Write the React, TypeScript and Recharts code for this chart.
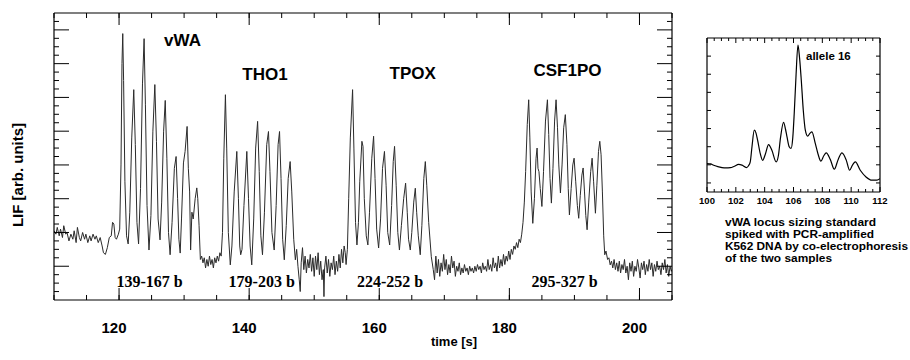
import React from 'react';
import { LineChart, Line, XAxis, YAxis } from 'recharts';

// ---------- main electropherogram: [time (s), LIF (arb. units)] ----------
const preVwa: [number, number][] = [
  [110.0, 2.05], [110.3, 1.95], [110.5, 2.15], [110.8, 1.9], [111.0, 2.1], [111.3, 1.85],
  [111.5, 2.2], [111.8, 1.95], [112.0, 2.0], [112.3, 1.75], [112.6, 1.95], [112.9, 1.8],
  [113.1, 2.05], [113.4, 1.7], [113.6, 2.15], [113.9, 1.85], [114.1, 1.75], [114.4, 2.0],
  [114.7, 1.8], [114.9, 1.95], [115.2, 1.7], [115.5, 1.9], [115.7, 1.75], [116.0, 1.95],
  [116.3, 1.8], [116.5, 1.9], [116.8, 1.7], [117.1, 1.85], [117.4, 1.6], [117.6, 1.4],
  [117.9, 1.35], [118.2, 1.55], [118.5, 1.85], [118.8, 1.9], [119.0, 2.3], [119.2, 2.25],
  [119.4, 1.85], [119.6, 1.8], [119.9, 1.95], [120.1, 2.1],
];
const vwaPeaks: [number, number][] = [
  [120.3, 4.0], [120.45, 7.0], [120.57, 7.89], [120.7, 6.5], [120.9, 3.5], [121.15, 1.9],
  [121.4, 1.66], [121.65, 2.6], [121.95, 4.8], [122.26, 6.23], [122.5, 4.6], [122.75, 2.3],
  [123.0, 1.66], [123.3, 3.3], [123.6, 6.4], [123.85, 7.74], [124.05, 5.8], [124.3, 2.8],
  [124.6, 1.48], [124.9, 2.5], [125.2, 5.0], [125.5, 6.38], [125.75, 4.7], [126.0, 2.4],
  [126.3, 1.78], [126.55, 2.9], [126.85, 5.0], [127.1, 5.91], [127.35, 4.2], [127.6, 2.0],
  [127.85, 1.34], [128.15, 2.3], [128.5, 3.9], [128.77, 4.25], [129.0, 3.0], [129.2, 1.8],
  [129.4, 1.39], [129.6, 2.4], [129.9, 4.06], [130.15, 4.4], [130.46, 5.14], [130.65, 3.9],
  [130.85, 3.2], [131.0, 1.48], [131.2, 2.6], [131.4, 2.4], [131.7, 3.0], [131.95, 3.32],
  [132.1, 3.0], [132.3, 2.2], [132.5, 1.2],
];
const gapOne: [number, number][] = [
  [132.7, 1.3], [132.9, 1.1], [133.1, 1.25], [133.3, 0.95], [133.5, 1.2], [133.7, 1.0],
  [133.9, 1.3], [134.1, 1.05], [134.3, 1.2], [134.5, 0.95], [134.7, 1.25], [134.9, 1.1],
  [135.1, 1.3], [135.3, 1.15], [135.5, 1.4], [135.7, 1.3],
];
const tho1Peaks: [number, number][] = [
  [135.9, 2.0], [136.1, 4.2], [136.35, 6.08], [136.55, 4.5], [136.8, 2.0], [137.1, 1.04],
  [137.35, 1.6], [137.7, 3.2], [138.1, 4.4], [138.35, 3.0], [138.55, 1.6], [138.7, 1.34],
  [138.9, 1.5], [139.2, 2.8], [139.64, 4.4], [139.9, 3.0], [140.15, 1.6], [140.4, 1.04],
  [140.7, 2.4], [141.0, 4.5], [141.3, 5.29], [141.55, 3.8], [141.8, 1.9], [142.05, 1.34],
  [142.35, 2.6], [142.7, 4.6], [142.97, 4.99], [143.2, 3.8], [143.5, 2.0], [143.85, 1.48],
  [144.15, 2.8], [144.45, 4.6], [144.67, 4.99], [144.9, 3.6], [145.15, 1.8], [145.4, 1.19],
  [145.7, 2.2], [146.0, 3.6], [146.3, 4.1], [146.55, 3.2], [146.85, 1.8], [147.1, 1.19],
];
const gapTwo: [number, number][] = [
  [147.3, 1.5], [147.5, 1.0], [147.7, 0.6], [147.85, 0.25], [148.0, 1.1], [148.2, 1.55],
  [148.4, 0.9], [148.6, 1.3], [148.8, 0.8], [149.0, 1.2], [149.2, 0.95], [149.4, 1.35],
  [149.6, 0.85], [149.8, 1.25], [150.0, 0.7], [150.2, 1.3], [150.4, 0.9], [150.6, 1.4],
  [150.8, 0.75], [151.0, 1.15], [151.2, 0.6], [151.4, 0.9], [151.5, 0.1], [151.6, 0.95],
  [151.8, 1.3], [152.0, 0.8], [152.2, 1.2], [152.4, 0.7], [152.6, 1.1], [152.8, 0.9],
  [153.0, 1.3], [153.2, 0.75], [153.4, 1.15], [153.6, 0.85], [153.8, 1.35], [154.0, 0.95],
  [154.2, 1.5], [154.4, 1.1], [154.6, 1.6], [154.77, 1.4], [154.9, 1.05],
];
const tpoxPeaks: [number, number][] = [
  [155.1, 1.5], [155.3, 3.0], [155.55, 4.8], [155.9, 6.23], [156.1, 4.5], [156.35, 2.3],
  [156.57, 1.63], [156.8, 2.3], [157.0, 3.5], [157.33, 4.7], [157.5, 4.55], [157.7, 3.0],
  [158.0, 1.9], [158.25, 1.63], [158.5, 2.6], [158.85, 4.2], [159.13, 4.85], [159.35, 3.6],
  [159.6, 2.1], [159.9, 1.54], [160.2, 2.4], [160.5, 3.9], [160.8, 4.4], [161.05, 3.4],
  [161.3, 2.0], [161.6, 1.63], [161.9, 2.8], [162.15, 4.1], [162.35, 4.55], [162.6, 3.4],
  [162.85, 2.0], [163.1, 1.48], [163.4, 2.2], [163.75, 3.0], [164.05, 3.46], [164.3, 2.6],
  [164.5, 1.8], [164.77, 1.48], [165.0, 2.0], [165.3, 2.9], [165.54, 3.31], [165.75, 2.6],
  [166.0, 1.9], [166.3, 1.34], [166.55, 2.2], [166.85, 3.6], [167.08, 4.1], [167.3, 3.4],
  [167.6, 2.3], [168.0, 1.28], [168.3, 0.9], [168.5, 0.6],
];
const gapThree: [number, number][] = [
  [168.7, 1.3], [168.9, 0.8], [169.1, 1.2], [169.3, 0.7], [169.5, 1.1], [169.7, 0.85],
  [169.9, 1.35], [170.1, 0.9], [170.3, 1.2], [170.5, 0.75], [170.7, 1.05], [170.9, 0.8],
  [171.1, 1.3], [171.3, 0.95], [171.5, 1.15], [171.7, 0.7], [171.9, 1.0], [172.1, 0.85],
  [172.3, 1.1], [172.5, 0.75], [172.7, 0.95], [172.9, 0.8], [173.1, 1.05], [173.3, 0.85],
  [173.5, 0.95], [173.7, 0.75], [173.9, 1.0], [174.1, 0.85], [174.3, 0.95], [174.5, 0.8],
  [174.7, 1.0], [174.9, 0.85], [175.1, 1.05], [175.3, 0.9], [175.5, 1.0], [175.7, 0.8],
  [175.9, 1.1], [176.1, 0.9], [176.3, 1.0], [176.5, 0.85], [176.7, 1.2], [176.9, 0.9],
  [177.1, 1.05], [177.3, 0.85], [177.5, 1.25], [177.7, 0.95], [177.9, 1.1], [178.1, 0.85],
  [178.3, 1.3], [178.5, 0.95], [178.7, 1.2], [178.9, 1.0], [179.1, 1.35], [179.3, 1.05],
  [179.5, 1.3], [179.7, 1.15], [179.9, 1.45], [180.1, 1.2], [180.3, 1.5], [180.5, 1.35],
  [180.7, 1.6], [180.9, 1.5], [181.1, 1.7],
];
const csf1poPeaks: [number, number][] = [
  [181.3, 1.55], [181.5, 1.8], [181.7, 1.7], [181.9, 1.95], [182.1, 2.3], [182.3, 2.9],
  [182.5, 3.8], [182.75, 5.2], [182.97, 5.93], [183.15, 4.8], [183.35, 3.2], [183.6, 2.27],
  [183.85, 3.0], [184.1, 4.2], [184.26, 4.5], [184.4, 3.9], [184.55, 3.8], [184.75, 3.3],
  [185.0, 2.77], [185.25, 3.8], [185.55, 5.3], [185.85, 5.93], [186.05, 4.9], [186.25, 3.6],
  [186.46, 2.87], [186.7, 3.9], [186.95, 5.3], [187.18, 5.93], [187.4, 5.1], [187.6, 4.0],
  [187.85, 3.17], [188.1, 4.0], [188.35, 5.1], [188.6, 5.49], [188.85, 4.6], [189.05, 3.3],
  [189.23, 2.52], [189.5, 3.3], [189.75, 4.0], [189.95, 4.2], [190.2, 3.5], [190.45, 2.8],
  [190.66, 2.42], [190.9, 3.1], [191.15, 3.7], [191.34, 3.91], [191.55, 3.2], [191.75, 2.5],
  [191.95, 2.08], [192.2, 2.9], [192.5, 3.8], [192.72, 4.2], [192.95, 3.5], [193.23, 2.57],
  [193.45, 3.4], [193.7, 4.4], [193.9, 4.7], [194.1, 4.3], [194.3, 3.2], [194.5, 1.9],
  [194.66, 1.34], [194.85, 1.45], [195.1, 1.2], [195.3, 1.25], [195.5, 1.04],
];
const tail: [number, number][] = [
  [195.7, 1.15], [195.9, 0.95], [196.1, 1.2], [196.3, 0.9], [196.5, 1.1], [196.7, 0.85],
  [196.9, 1.15], [197.1, 0.8], [197.3, 1.05], [197.5, 0.9], [197.7, 1.2], [197.9, 0.8],
  [198.1, 1.0], [198.3, 0.6], [198.5, 1.1], [198.7, 0.85], [198.9, 1.15], [199.1, 0.7],
  [199.3, 1.0], [199.5, 0.85], [199.7, 1.2], [199.9, 0.95], [200.1, 0.65], [200.3, 1.1],
  [200.5, 0.9], [200.7, 1.15], [200.9, 0.75], [201.1, 1.05], [201.3, 0.85], [201.5, 1.2],
  [201.7, 0.9], [201.9, 1.1], [202.1, 0.7], [202.3, 1.05], [202.5, 0.85], [202.7, 1.15],
  [202.9, 0.9], [203.1, 1.0], [203.3, 0.75], [203.5, 1.1], [203.7, 0.9], [203.9, 1.2],
  [204.1, 0.8], [204.3, 1.05], [204.5, 0.7], [204.7, 1.0], [204.9, 0.85], [205.0, 0.9],
];

// ---------- inset: vWA locus sizing standard ----------
const insetTrace: [number, number][] = [
  [100, 1.07], [100.25, 1.05], [100.46, 0.98], [100.75, 0.9], [101.04, 0.85], [101.3, 0.83],
  [101.62, 0.84], [101.9, 0.92], [102.19, 1.02], [102.43, 0.98], [102.73, 0.85], [102.88, 0.95],
  [103.0, 1.16], [103.12, 2.0], [103.28, 2.91], [103.4, 2.75], [103.51, 2.36], [103.7, 1.6],
  [103.86, 1.25], [104.05, 1.6], [104.27, 2.12], [104.5, 1.8], [104.8, 1.16], [104.95, 1.5],
  [105.1, 2.5], [105.31, 3.34], [105.45, 2.95], [105.55, 2.54], [105.7, 2.0], [105.83, 1.9],
  [105.95, 2.5], [106.05, 3.83], [106.18, 6.0], [106.31, 7.61], [106.42, 6.9], [106.54, 5.67],
  [106.68, 4.0], [106.82, 2.91], [106.98, 2.58], [107.15, 2.75], [107.28, 2.82], [107.51, 2.18],
  [107.7, 1.6], [107.9, 1.2], [108.1, 1.5], [108.27, 1.66], [108.55, 1.3], [108.83, 0.76],
  [109.1, 1.3], [109.36, 1.66], [109.66, 1.26], [109.89, 0.7], [110.1, 1.0], [110.29, 1.16],
  [110.63, 0.7], [111.03, 0.33], [111.44, 0.15], [111.79, 0.15], [112, 0.24],
];

// ---------- ticks & labels ----------
const mainMajorX = [120, 140, 160, 180, 200];
const mainMinorX = [110, 115, 120, 125, 130, 135, 140, 145, 150, 155, 160, 165, 170, 175, 180, 185, 190, 195, 200, 205];
const mainMajorY = [1, 2, 3, 4, 5, 6, 7, 8];
const mainMinorY = [0.25, 0.5, 0.75, 1.25, 1.5, 1.75, 2.25, 2.5, 2.75, 3.25, 3.5, 3.75, 4.25, 4.5, 4.75,
  5.25, 5.5, 5.75, 6.25, 6.5, 6.75, 7.25, 7.5, 7.75, 8.25];
const insetMajorX = [100, 102, 104, 106, 108, 110, 112];
const insetMinorX = [100.5, 101, 101.5, 102.5, 103, 103.5, 104.5, 105, 105.5, 106.5, 107, 107.5,
  108.5, 109, 109.5, 110.5, 111, 111.5];
const insetMajorY = [0, 1, 2, 3, 4, 5, 6, 7];

const locusNames = ['vWA', 'THO1', 'TPOX', 'CSF1PO'];
const sizeRanges = ['139-167 b', '179-203 b', '224-252 b', '295-327 b'];
const captionLines = ['vWA locus sizing standard', 'spiked with PCR-amplified', 'K562 DNA by co-electrophoresis', 'of the two samples'];

const mainData = [...preVwa, ...vwaPeaks, ...gapOne, ...tho1Peaks, ...gapTwo, ...tpoxPeaks, ...gapThree, ...csf1poPeaks, ...tail]
  .map(([t, v]) => ({ t, v }));
const insetData = insetTrace.map(([t, v]) => ({ t, v }));

const SANS = '"Liberation Sans", Arial, Helvetica, sans-serif';
const SERIF = '"Liberation Serif", "Times New Roman", serif';
const frame = { stroke: '#000', strokeWidth: 1.2 };
const tickLn = { stroke: '#000', strokeWidth: 1 };
const THIN = 0.01; // mirrored axes take (almost) no room
const noLabel = () => <g />;

const mainTick = (p: any) => (
  <text x={p.x - 5} y={p.y + 25} textAnchor="middle" fontFamily={SANS} fontWeight="bold" fontSize={15} fill="#000">
    {p.payload.value}
  </text>
);
const insetTick = (p: any) => (
  <text x={p.x} y={p.y + 3.5} textAnchor="middle" fontFamily={SANS} fontWeight="bold" fontSize={9.5} fill="#000">
    {p.payload.value}
  </text>
);

const locusPos = [[182.5, 45.7], [265, 80], [412.7, 79.3], [567.5, 76]];
const rangePos = [149.5, 261.7, 390, 564.5];
const captionBase = [226, 238, 250, 262];
const captionWidth = [151, 149, 183, 107];

export default function App() {
  return (
    <div style={{ position: 'absolute', left: 0, top: 0, width: 910, height: 360, background: '#fff' }}>
      <div style={{ position: 'absolute', left: 0, top: 0 }}>
        <LineChart width={910} height={360} data={mainData} margin={{ top: 13, right: 238, bottom: 30, left: 54 }}>
          <XAxis xAxisId="b" dataKey="t" type="number" domain={[110, 205]} allowDataOverflow orientation="bottom" mirror height={THIN}
            ticks={mainMajorX} interval={0} tickSize={12} tick={noLabel} axisLine={frame} tickLine={tickLn} />
          <XAxis xAxisId="b2" dataKey="t" type="number" domain={[110, 205]} allowDataOverflow orientation="bottom" mirror height={THIN}
            ticks={mainMinorX} interval={0} tickSize={5} tick={noLabel} axisLine={false} tickLine={tickLn} />
          <XAxis xAxisId="t" dataKey="t" type="number" domain={[110, 205]} allowDataOverflow orientation="top" mirror height={THIN}
            ticks={mainMajorX} interval={0} tickSize={12} tick={noLabel} axisLine={frame} tickLine={tickLn} />
          <XAxis xAxisId="t2" dataKey="t" type="number" domain={[110, 205]} allowDataOverflow orientation="top" mirror height={THIN}
            ticks={mainMinorX} interval={0} tickSize={5} tick={noLabel} axisLine={false} tickLine={tickLn} />
          <XAxis xAxisId="lab" dataKey="t" type="number" domain={[110, 205]} allowDataOverflow orientation="bottom" height={30}
            ticks={mainMajorX} interval={0} axisLine={false} tickLine={false} tick={mainTick} />
          <YAxis yAxisId="l" type="number" domain={[0, 8.5]} allowDataOverflow orientation="left" mirror width={THIN}
            ticks={mainMajorY} interval={0} tickSize={15} tick={noLabel} axisLine={frame} tickLine={tickLn} />
          <YAxis yAxisId="l2" type="number" domain={[0, 8.5]} allowDataOverflow orientation="left" mirror width={THIN}
            ticks={mainMinorY} interval={0} tickSize={5} tick={noLabel} axisLine={false} tickLine={tickLn} />
          <YAxis yAxisId="r" type="number" domain={[0, 8.5]} allowDataOverflow orientation="right" mirror width={THIN}
            ticks={mainMajorY} interval={0} tickSize={15} tick={noLabel} axisLine={frame} tickLine={tickLn} />
          <YAxis yAxisId="r2" type="number" domain={[0, 8.5]} allowDataOverflow orientation="right" mirror width={THIN}
            ticks={mainMinorY} interval={0} tickSize={5} tick={noLabel} axisLine={false} tickLine={tickLn} />
          <Line xAxisId="b" yAxisId="l" dataKey="v" type="linear" stroke="#2b2b2b" strokeWidth={1} dot={false}
            isAnimationActive={false} />
        </LineChart>
      </div>
      <div style={{ position: 'absolute', left: 0, top: 0 }}>
        <LineChart width={910} height={360} data={insetData} margin={{ top: 38, right: 30, bottom: 148, left: 707 }}>
          <XAxis xAxisId="b" dataKey="t" type="number" domain={[100, 112]} allowDataOverflow orientation="bottom" mirror height={THIN}
            ticks={insetMajorX} interval={0} tickSize={5} tick={noLabel} axisLine={frame} tickLine={tickLn} />
          <XAxis xAxisId="b2" dataKey="t" type="number" domain={[100, 112]} allowDataOverflow orientation="bottom" mirror height={THIN}
            ticks={insetMinorX} interval={0} tickSize={3} tick={noLabel} axisLine={false} tickLine={tickLn} />
          <XAxis xAxisId="t" dataKey="t" type="number" domain={[100, 112]} allowDataOverflow orientation="top" mirror height={THIN}
            ticks={insetMajorX} interval={0} tickSize={5} tick={noLabel} axisLine={frame} tickLine={tickLn} />
          <XAxis xAxisId="t2" dataKey="t" type="number" domain={[100, 112]} allowDataOverflow orientation="top" mirror height={THIN}
            ticks={insetMinorX} interval={0} tickSize={3} tick={noLabel} axisLine={false} tickLine={tickLn} />
          <XAxis xAxisId="lab" dataKey="t" type="number" domain={[100, 112]} allowDataOverflow orientation="bottom" height={20}
            ticks={insetMajorX} interval={0} axisLine={false} tickLine={false} tick={insetTick} />
          <YAxis yAxisId="l" type="number" domain={[-0.5, 8]} allowDataOverflow orientation="left" mirror width={THIN}
            ticks={insetMajorY} interval={0} tickSize={4} tick={noLabel} axisLine={frame} tickLine={tickLn} />
          <YAxis yAxisId="r" type="number" domain={[-0.5, 8]} allowDataOverflow orientation="right" mirror width={THIN}
            ticks={insetMajorY} interval={0} tickSize={4} tick={noLabel} axisLine={frame} tickLine={tickLn} />
          <Line xAxisId="b" yAxisId="l" dataKey="v" type="monotone" stroke="#000" strokeWidth={1.2} dot={false}
            isAnimationActive={false} />
        </LineChart>
      </div>
      <svg width={910} height={360} style={{ position: 'absolute', left: 0, top: 0, pointerEvents: 'none' }}>
        <text transform="translate(23,175) rotate(-90)" textAnchor="middle" fontFamily={SANS} fontWeight="bold" fontSize={15} fill="#000">
          LIF [arb. units]
        </text>
        <text x={454} y={346} textAnchor="middle" fontFamily={SANS} fontWeight="bold" fontSize={13} fill="#000">time [s]</text>
        {locusNames.map((n, i) => (
          <text key={n} x={locusPos[i][0]} y={locusPos[i][1]} textAnchor="middle" fontFamily={SANS} fontWeight="bold" fontSize={17} fill="#000">{n}</text>
        ))}
        {sizeRanges.map((s, i) => (
          <text key={s} x={rangePos[i]} y={287} textAnchor="middle" fontFamily={SERIF} fontWeight="bold" fontSize={16} fill="#000">{s}</text>
        ))}
        <text x={806} y={60} fontFamily={SANS} fontWeight="bold" fontSize={11.5} fill="#000">allele 16</text>
        {captionLines.map((c, i) => (
          <text key={c} x={725} y={captionBase[i]} textLength={captionWidth[i]} lengthAdjust="spacingAndGlyphs"
            fontFamily={SANS} fontWeight="bold" fontSize={10.5} fill="#000">{c}</text>
        ))}
      </svg>
    </div>
  );
}
